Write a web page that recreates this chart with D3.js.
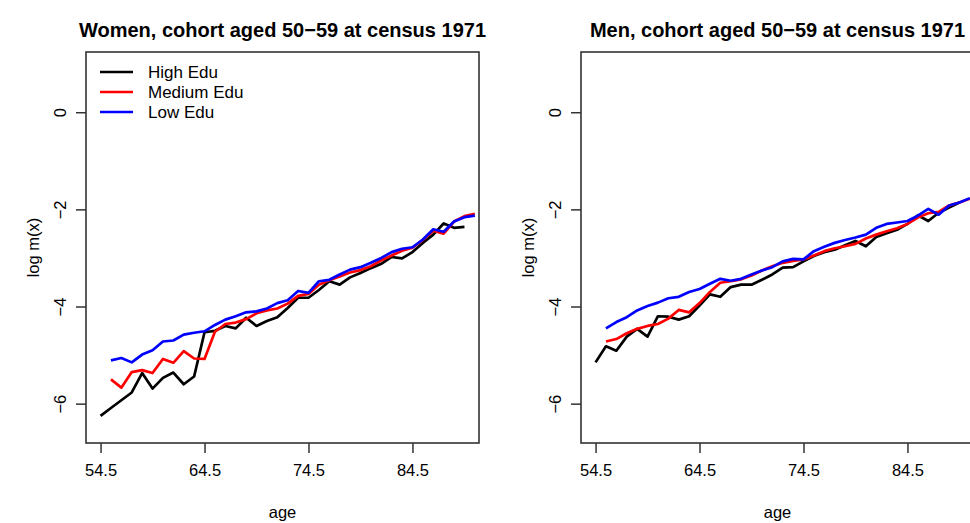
<!DOCTYPE html>
<html>
<head>
<meta charset="utf-8">
<script src="https://cdn.jsdelivr.net/npm/d3@7/dist/d3.min.js"></script>
<style>
  html, body { margin: 0; padding: 0; background: #fff; }
  svg { display: block; font-family: "Liberation Sans", Arial, sans-serif; }
</style>
</head>
<body>
<svg id="chart" width="970" height="523"></svg>
<script>
// ---- data ----
const agesHigh = d3.range(54.5, 90, 1);      // 54.5 .. 89.5
const agesMidLow = d3.range(55.5, 91, 1);    // 55.5 .. 90.5

const womenHigh = [-6.25,-6.09,-5.93,-5.77,-5.37,-5.69,-5.47,-5.36,-5.60,-5.44,
  -4.53,-4.50,-4.40,-4.45,-4.23,-4.40,-4.30,-4.22,-4.03,-3.82,
  -3.82,-3.66,-3.48,-3.55,-3.40,-3.31,-3.21,-3.12,-2.98,-3.01,
  -2.88,-2.69,-2.52,-2.29,-2.38,-2.36];
const womenMedium = [-5.50,-5.67,-5.35,-5.31,-5.37,-5.08,-5.16,-4.92,-5.07,-5.08,
  -4.52,-4.36,-4.33,-4.26,-4.14,-4.08,-4.04,-3.94,-3.78,-3.74,
  -3.55,-3.46,-3.38,-3.30,-3.25,-3.17,-3.05,-2.95,-2.85,-2.79,
  -2.63,-2.44,-2.50,-2.25,-2.14,-2.09];
const womenLow = [-5.11,-5.06,-5.15,-4.99,-4.90,-4.72,-4.70,-4.58,-4.54,-4.51,
  -4.38,-4.27,-4.20,-4.12,-4.10,-4.04,-3.93,-3.87,-3.68,-3.72,
  -3.48,-3.45,-3.34,-3.24,-3.19,-3.10,-3.00,-2.88,-2.81,-2.78,
  -2.62,-2.41,-2.46,-2.25,-2.16,-2.13];

const menHigh = [-5.15,-4.82,-4.91,-4.62,-4.46,-4.62,-4.20,-4.21,-4.27,-4.20,
  -3.98,-3.75,-3.80,-3.60,-3.55,-3.55,-3.45,-3.34,-3.20,-3.19,
  -3.07,-2.96,-2.88,-2.83,-2.74,-2.65,-2.76,-2.57,-2.49,-2.42,
  -2.30,-2.12,-2.24,-2.07,-1.96,-1.86];
const menMedium = [-4.72,-4.67,-4.55,-4.46,-4.40,-4.36,-4.25,-4.07,-4.12,-3.93,
  -3.70,-3.51,-3.48,-3.44,-3.36,-3.26,-3.17,-3.10,-3.06,-3.03,
  -2.95,-2.86,-2.80,-2.76,-2.71,-2.60,-2.52,-2.45,-2.39,-2.30,
  -2.17,-2.08,-2.05,-1.92,-1.86,-1.78];
const menLow = [-4.45,-4.32,-4.22,-4.08,-3.99,-3.92,-3.83,-3.80,-3.70,-3.64,
  -3.53,-3.43,-3.47,-3.43,-3.34,-3.26,-3.19,-3.07,-3.02,-3.03,
  -2.86,-2.77,-2.69,-2.63,-2.58,-2.52,-2.38,-2.30,-2.27,-2.24,
  -2.13,-1.99,-2.11,-1.92,-1.86,-1.77];

const seriesNames = ["High Edu", "Medium Edu", "Low Edu"];
const seriesColors = ["#000000", "#ff0000", "#0000ff"];
const xTicks = [54.5, 64.5, 74.5, 84.5];
const yTicks = [0, -2, -4, -6];
const panelTitles = ["Women, cohort aged 50\u221259 at census 1971",
                     "Men, cohort aged 50\u221259 at census 1971"];

// ---- drawing ----
const svg = d3.select("#chart");
svg.append("rect").attr("width", 970).attr("height", 523).attr("fill", "#fff");

const pLeft = 86, pRight = 479, pTop = 52, pBottom = 443;
const x = d3.scaleLinear().domain([53.1, 90.9]).range([pLeft, pRight]);
const y = d3.scaleLinear().domain([-6.81, 1.24]).range([pBottom, pTop]);
const fmtMinus = d => (d < 0 ? "\u2212" + Math.abs(d) : String(d));

const panels = [
  { dx: 0, title: panelTitles[0], data: [womenHigh, womenMedium, womenLow], legend: true },
  { dx: 495, title: panelTitles[1], data: [menHigh, menMedium, menLow], legend: false }
];

panels.forEach(p => {
  const g = svg.append("g").attr("transform", `translate(${p.dx},0)`);

  // title
  g.append("text")
    .attr("x", (pLeft + pRight) / 2).attr("y", 37)
    .attr("text-anchor", "middle")
    .attr("font-size", 20).attr("font-weight", "bold")
    .attr("fill", "#000")
    .text(p.title);

  // lines
  const line = d3.line().x(d => x(d[0])).y(d => y(d[1]));
  p.data.forEach((vals, i) => {
    const ages = i === 0 ? agesHigh : agesMidLow;
    const pts = vals.map((v, j) => [ages[j], v]);
    g.append("path")
      .datum(pts)
      .attr("d", line)
      .attr("fill", "none")
      .attr("stroke", seriesColors[i])
      .attr("stroke-width", 2.7)
      .attr("stroke-linejoin", "round");
  });

  // frame
  g.append("rect")
    .attr("x", pLeft).attr("y", pTop)
    .attr("width", pRight - pLeft).attr("height", pBottom - pTop)
    .attr("fill", "none").attr("stroke", "#333").attr("stroke-width", 1.6);

  // x axis
  const xa = g.append("g").attr("transform", `translate(0,${pBottom})`)
    .call(d3.axisBottom(x).tickValues(xTicks).tickSize(10).tickSizeOuter(0).tickPadding(11)
      .tickFormat(d3.format(".1f")));
  xa.select(".domain").remove();
  xa.selectAll("line").attr("stroke", "#333").attr("stroke-width", 1.5);
  xa.selectAll("text").attr("font-size", 16.5).attr("fill", "#000")
    .attr("font-family", "Liberation Sans, Arial, sans-serif");

  // y axis
  const ya = g.append("g").attr("transform", `translate(${pLeft},0)`)
    .call(d3.axisLeft(y).tickValues(yTicks).tickSize(10).tickSizeOuter(0).tickFormat(fmtMinus));
  ya.select(".domain").remove();
  ya.selectAll("line").attr("stroke", "#333").attr("stroke-width", 1.5);
  ya.selectAll("text")
    .attr("x", null).attr("dy", null)
    .attr("text-anchor", "middle")
    .attr("font-size", 16.5).attr("fill", "#000")
    .attr("font-family", "Liberation Sans, Arial, sans-serif")
    .attr("transform", "translate(-20,0) rotate(-90)");

  // axis labels
  g.append("text")
    .attr("x", (pLeft + pRight) / 2).attr("y", 518)
    .attr("text-anchor", "middle").attr("font-size", 16.5).attr("fill", "#000")
    .text("age");
  g.append("text")
    .attr("transform", `translate(${pLeft - 47},${(pTop + pBottom) / 2}) rotate(-90)`)
    .attr("text-anchor", "middle").attr("font-size", 16.5).attr("fill", "#000")
    .text("log m(x)");

  // legend
  if (p.legend) {
    const lg = g.append("g");
    seriesNames.forEach((name, i) => {
      const ly = 72 + i * 20;
      lg.append("line")
        .attr("x1", 100).attr("x2", 133).attr("y1", ly).attr("y2", ly)
        .attr("stroke", seriesColors[i]).attr("stroke-width", 2.7);
      lg.append("text")
        .attr("x", 148).attr("y", ly).attr("dy", "0.36em")
        .attr("font-size", 17).attr("fill", "#000")
        .text(name);
    });
  }
});
</script>
</body>
</html>
